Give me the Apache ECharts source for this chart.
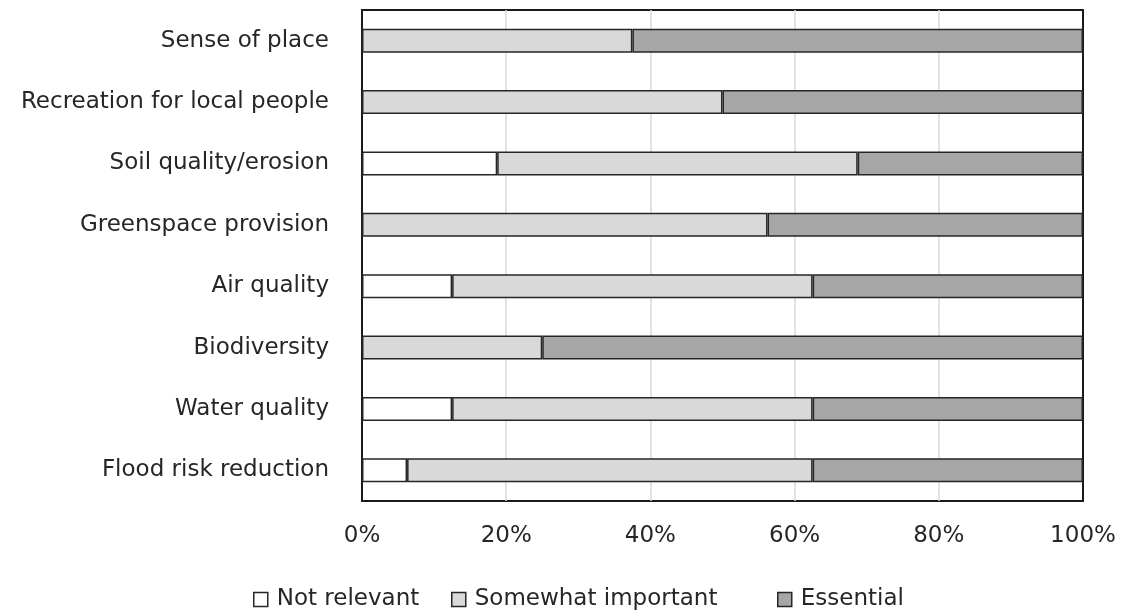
<!DOCTYPE html>
<html>
<head>
<meta charset="utf-8">
<script src="https://cdn.jsdelivr.net/npm/echarts@6/dist/echarts.min.js"></script>
<style>
  html, body { margin: 0; padding: 0; background: #ffffff; }
  #chart { width: 1121px; height: 612px; }
</style>
</head>
<body>
<div id="chart"></div>
<script>
// Ecosystem services, share of responses per rating (percent)
const categories = [
  'Sense of place',
  'Recreation for local people',
  'Soil quality/erosion',
  'Greenspace provision',
  'Air quality',
  'Biodiversity',
  'Water quality',
  'Flood risk reduction'
];
const ratings = ['Not relevant', 'Somewhat important', 'Essential'];
const notRelevant       = [0,    0,  18.75, 0,     12.5, 0,  12.5, 6.25];
const somewhatImportant = [37.5, 50, 50,    56.25, 50,   25, 50,   56.25];
const essential         = [62.5, 50, 31.25, 43.75, 37.5, 75, 37.5, 37.5];
const xTicks = [0, 20, 40, 60, 80, 100];

const fontFamily = '"DejaVu Sans", "Noto Sans", sans-serif';
const textColor = '#262626';
const fontSize = 23;

const chart = echarts.init(document.getElementById('chart'));

function barSeries(name, data, color) {
  return {
    name: name,
    type: 'bar',
    stack: 'total',
    // zero shares are left empty so no sliver of border is drawn
    data: data.map(v => (v === 0 ? null : v)),
    barWidth: 24,
    itemStyle: { color: color, borderColor: '#262626', borderWidth: 1.5 },
    emphasis: { disabled: true }
  };
}

// one legend box per rating, spaced like the original key
function legendItem(name, left) {
  return {
    left: left,
    top: 583,
    itemWidth: 14, itemHeight: 14,
    icon: 'rect',
    textStyle: { fontSize: fontSize, color: textColor, fontFamily: fontFamily, padding: [0, 0, 0, 4] },
    data: [{ name: name, itemStyle: { borderColor: '#262626', borderWidth: 1.5 } }]
  };
}

chart.setOption({
  animation: false,
  backgroundColor: '#ffffff',
  textStyle: { fontFamily: fontFamily },
  grid: {
    left: 362, right: 38, top: 10, bottom: 111,
    show: true, borderColor: '#1a1a1a', borderWidth: 2,
    containLabel: false
  },
  xAxis: {
    type: 'value',
    min: 0, max: 100, interval: 20,
    axisLine: { show: false },
    axisTick: { show: false },
    splitLine: {
      show: true, showMinLine: false, showMaxLine: false,
      lineStyle: { color: '#d9d9d9', width: 1.5 }
    },
    axisLabel: {
      fontSize: fontSize, color: textColor, margin: 24, fontFamily: fontFamily,
      formatter: v => (xTicks.indexOf(v) >= 0 ? v + '%' : '')
    }
  },
  yAxis: {
    type: 'category',
    inverse: true,
    data: categories,
    axisLine: { show: false },
    axisTick: { show: false },
    splitLine: { show: false },
    axisLabel: { fontSize: fontSize, color: textColor, margin: 33, fontFamily: fontFamily }
  },
  legend: [
    legendItem(ratings[0], 248),
    legendItem(ratings[1], 446),
    legendItem(ratings[2], 772)
  ],
  series: [
    barSeries(ratings[0], notRelevant, '#ffffff'),
    barSeries(ratings[1], somewhatImportant, '#d9d9d9'),
    barSeries(ratings[2], essential, '#a6a6a6')
  ]
});
</script>
</body>
</html>
